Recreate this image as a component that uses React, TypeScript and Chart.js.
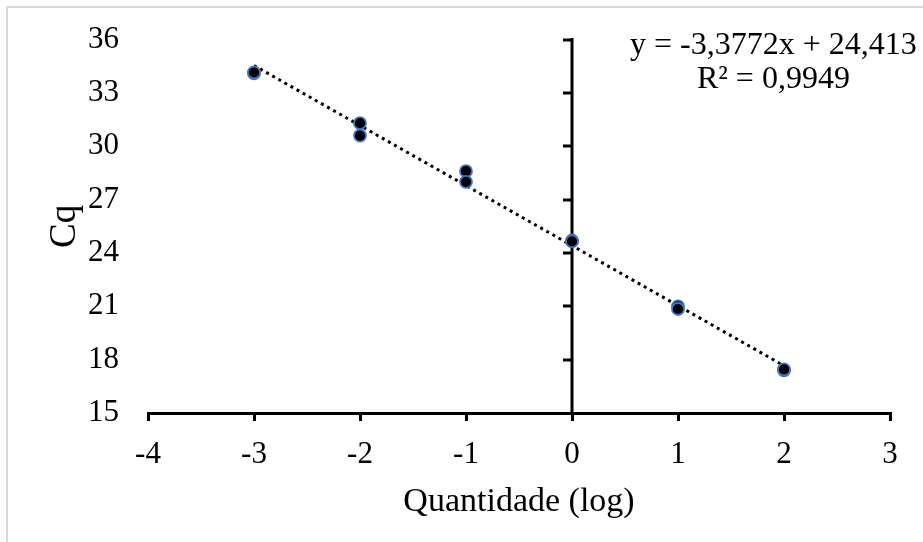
import React, { useEffect, useRef } from "react";
import { Chart, registerables } from "chart.js";

Chart.register(...registerables);

// ---- data ----
const quantityLog = [-3, -3, -2, -2, -1, -1, 0, 0, 1, 1, 2, 2];
const cqValues = [34.1, 34.15, 31.3, 30.6, 28.6, 28.0, 24.7, 24.65, 21.0, 20.85, 17.4, 17.45];
const trendX = [-3, 2];
const trendY = [34.545, 17.659];
const equationLines = ["y = -3,3772x + 24,413", "R² = 0,9949"];
const xTickMin = -4;
const xTickMax = 3;
const yTickMin = 15;
const yTickMax = 36;
const yTickStep = 3;
const xTitle = "Quantidade (log)";
const yTitle = "Cq";

const FONT = "'Liberation Serif', 'Times New Roman', serif";

const yAxisAtZero = {
  id: "yAxisAtZero",
  beforeDatasetsDraw(chart: any) {
    const { ctx, scales } = chart;
    const xs = scales.x;
    const ys = scales.y;
    const px = xs.getPixelForValue(0);
    ctx.save();
    ctx.strokeStyle = "#000";
    ctx.lineWidth = 3;
    ctx.beginPath();
    ctx.moveTo(px, ys.getPixelForValue(yTickMin));
    ctx.lineTo(px, ys.getPixelForValue(yTickMax) - 1.5);
    ctx.stroke();
    for (let v = yTickMin + yTickStep; v <= yTickMax; v += yTickStep) {
      const py = Math.round(ys.getPixelForValue(v));
      ctx.beginPath();
      ctx.moveTo(px - 9, py);
      ctx.lineTo(px, py);
      ctx.stroke();
    }
    ctx.restore();
  },
  afterDraw(chart: any) {
    const { ctx, scales } = chart;
    const cx = scales.x.getPixelForValue(1.9);
    ctx.save();
    ctx.fillStyle = "#000";
    ctx.font = `32px ${FONT}`;
    ctx.textAlign = "center";
    ctx.textBaseline = "middle";
    ctx.fillText(equationLines[0], cx, scales.y.getPixelForValue(35.66));
    ctx.fillText(equationLines[1], cx, scales.y.getPixelForValue(33.77));
    ctx.restore();
  },
};

export default function App() {
  const ref = useRef<HTMLCanvasElement>(null);
  useEffect(() => {
    if (!ref.current) return;
    const chart = new Chart(ref.current, {
      type: "scatter",
      data: {
        datasets: [
          {
            label: "Cq",
            data: quantityLog.map((x, i) => ({ x, y: cqValues[i] })),
            backgroundColor: "#000",
            borderColor: "#4472C4",
            borderWidth: 1.8,
            pointRadius: 6,
          },
          {
            type: "line",
            label: "trend",
            data: trendX.map((x, i) => ({ x, y: trendY[i] })),
            borderColor: "#000",
            borderWidth: 3,
            borderDash: [3, 4],
            pointRadius: 0,
            fill: false,
          } as any,
        ],
      },
      options: {
        responsive: false,
        animation: false,
        devicePixelRatio: 1,
        layout: { padding: { left: 0, right: 33, top: 0, bottom: 16 } },
        plugins: { legend: { display: false }, tooltip: { enabled: false } },
        scales: {
          x: {
            type: "linear",
            min: xTickMin,
            max: xTickMax,
            ticks: {
              stepSize: 1,
              color: "#000",
              font: { family: FONT, size: 31 },
              padding: 15,
              maxRotation: 0,
            },
            grid: {
              drawOnChartArea: false,
              drawTicks: true,
              tickLength: 8,
              color: "#000",
              lineWidth: 3,
            },
            border: { display: true, color: "#000", width: 3 },
            title: {
              display: true,
              text: xTitle,
              color: "#000",
              font: { family: FONT, size: 34 },
              padding: { top: -7, bottom: 4 },
            },
          },
          y: {
            type: "linear",
            min: yTickMin,
            max: yTickMax,
            ticks: {
              stepSize: yTickStep,
              color: "#000",
              font: { family: FONT, size: 31 },
              padding: 21,
            },
            grid: { display: false },
            border: { display: false },
            title: {
              display: true,
              text: yTitle,
              color: "#000",
              font: { family: FONT, size: 37 },
              padding: { top: 42.8, bottom: -20.2 },
            },
          },
        },
      },
      plugins: [yAxisAtZero],
    });
    return () => chart.destroy();
  }, []);

  return (
    <div style={{ position: "fixed", left: 0, top: 0, width: 923, height: 542, background: "#fff", overflow: "hidden" }}>
      <div
        style={{
          position: "absolute",
          left: 6,
          top: 6,
          width: 940,
          height: 560,
          borderTop: "2px solid #d9d9d9",
          borderLeft: "2px solid #d9d9d9",
        }}
      />
      <canvas ref={ref} width={923} height={542} style={{ position: "absolute", left: 0, top: 0 }} />
    </div>
  );
}
